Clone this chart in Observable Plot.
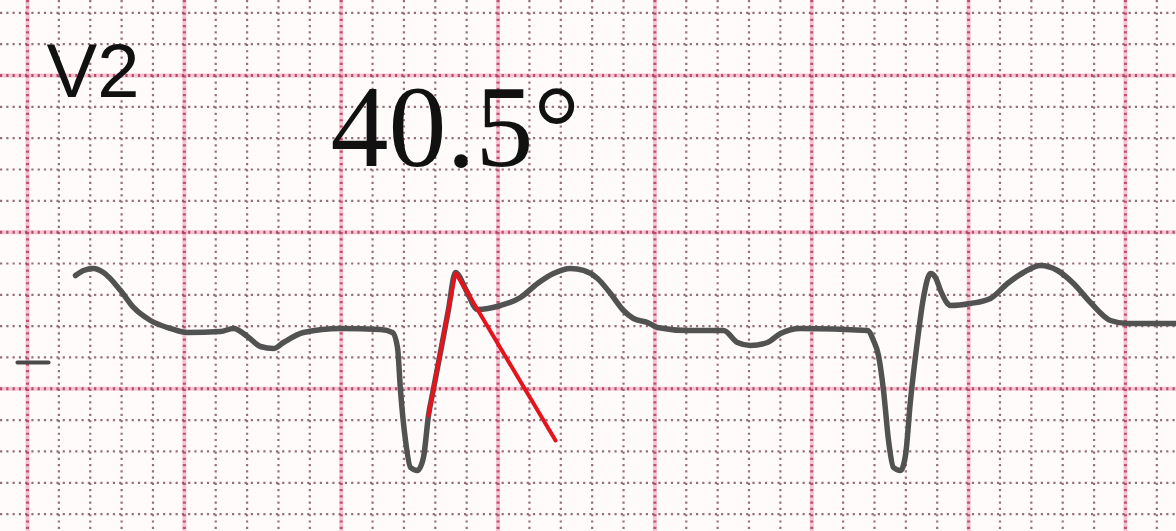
<!DOCTYPE html>
<html>
<head>
<meta charset="utf-8">
<script src="https://cdn.jsdelivr.net/npm/d3@7"></script>
<script src="https://cdn.jsdelivr.net/npm/@observablehq/plot@0.6"></script>
<style>
  html, body { margin: 0; padding: 0; background: #fffbfb; overflow: hidden; }
  #chart svg { display: block; }
</style>
</head>
<body>
<div id="chart"></div>
<script>
const traceT = [0.0612,0.0714,0.0842,0.0969,0.1186,0.1352,0.1568,0.1823,0.2040,0.2461,0.2627,0.2805,0.2971,0.3137,0.3264,0.3519,0.3991,0.4501,0.4654,0.4718,0.4756,0.4820,0.4884,0.4973,0.5049,0.5113,0.5177,0.5279,0.5368,0.5457,0.5598,0.5738,0.6031,0.6286,0.6503,0.6707,0.6924,0.7090,0.7268,0.7434,0.7600,0.7727,0.7906,0.8033,0.8416,0.8875,0.9053,0.9219,0.9436,0.9602,0.9857,1.0711,1.0787,1.0851,1.0915,1.0979,1.1042,1.1132,1.1195,1.1259,1.1348,1.1425,1.1514,1.1578,1.1642,1.1731,1.1769,1.2024,1.2279,1.2496,1.2700,1.2917,1.3134,1.3338,1.3554,1.3809,1.4026,1.4651];
const traceV = [0.3616,0.3776,0.3840,0.3712,0.3138,0.2595,0.2180,0.1925,0.1797,0.1829,0.1925,0.1669,0.1350,0.1286,0.1478,0.1797,0.1925,0.1893,0.1797,0.1318,-0.0054,-0.1650,-0.2512,-0.2608,-0.2193,-0.0852,-0.0001,0.1341,0.2534,0.3712,0.3122,0.2531,0.2659,0.2914,0.3361,0.3680,0.3840,0.3776,0.3521,0.3042,0.2499,0.2244,0.2116,0.1957,0.1861,0.1861,0.1478,0.1382,0.1478,0.1765,0.1925,0.1861,0.1542,0.1063,-0.0054,-0.1650,-0.2512,-0.2608,-0.2129,-0.0373,0.1542,0.2914,0.3680,0.3553,0.3138,0.2723,0.2659,0.2723,0.2882,0.3361,0.3712,0.3936,0.3776,0.3361,0.2755,0.2180,0.2084,0.2084];

// Red angle construction on the first QRS (R' wave)
const angleT = [0.5113, 0.5457, 0.6733];
const angleV = [-0.0852, 0.3712, -0.1650];

// Calibration stub at left edge
const calT = [-0.0128, 0.0268];
const calV = [0.0839, 0.0839];

// Labels
const leadLabel = "V2";
const angleLabel = "40.5°";

const trace = traceT.map((t, i) => ({t, v: traceV[i]}));
const angle = angleT.map((t, i) => ({t, v: angleV[i]}));
const cal = calT.map((t, i) => ({t, v: calV[i]}));

// ECG paper grid: 1 mm = 0.04 s horizontally, 0.1 mV vertically; bold every 5 mm
const tIdx = d3.range(-1, 38);
const vIdx = d3.range(-4, 13);
const minorT = tIdx.filter(i => i % 5 !== 0).map(i => i * 0.04);
const majorT = tIdx.filter(i => i % 5 === 0).map(i => i * 0.04);
const minorV = vIdx.filter(i => i % 5 !== 0).map(i => +(i * 0.1).toFixed(2));
const majorV = vIdx.filter(i => i % 5 === 0).map(i => +(i * 0.1).toFixed(2));

const dots = "2.2,4.07";

const chart = Plot.plot({
  width: 1176,
  height: 531,
  margin: 0,
  x: {domain: [-0.03443, 1.4651], axis: null},
  y: {domain: [-0.4555, 1.2394], axis: null},
  style: {background: "#fffbfb"},
  marks: [
    // bold grid lines (pink band)
    Plot.ruleX(majorT, {stroke: "#f0a0b6", strokeWidth: 4, strokeOpacity: 0.6}),
    Plot.ruleY(majorV, {stroke: "#f0a0b6", strokeWidth: 4, strokeOpacity: 0.6}),
    // dotted minor lines
    Plot.ruleX(minorT, {stroke: "#8a5f6b", strokeWidth: 2.2, strokeDasharray: dots, strokeOpacity: 0.9}),
    Plot.ruleY(minorV, {stroke: "#8a5f6b", strokeWidth: 2.2, strokeDasharray: dots, strokeOpacity: 0.9}),
    // dotted overlay on major lines
    Plot.ruleX(majorT, {stroke: "#b83a62", strokeWidth: 3, strokeDasharray: dots, strokeOpacity: 0.85}),
    Plot.ruleY(majorV, {stroke: "#a83a58", strokeWidth: 3, strokeDasharray: dots, strokeOpacity: 0.85}),
    // calibration stub
    Plot.line(cal, {x: "t", y: "v", stroke: "#4a4a4a", strokeWidth: 4}),
    // ECG trace
    Plot.line(trace, {x: "t", y: "v", stroke: "#525252", strokeWidth: 5.5, curve: "monotone-x", strokeLinejoin: "round", strokeLinecap: "round"}),
    // angle construction
    Plot.line(angle, {x: "t", y: "v", stroke: "#e5141c", strokeWidth: 4, strokeLinejoin: "miter"}),
    // labels
    Plot.text([leadLabel], {x: 0.0243, y: 0.930, text: d => d, textAnchor: "start", lineAnchor: "bottom", fontSize: 76, fontFamily: "Liberation Sans, Arial, sans-serif", fill: "#111"}),
    Plot.text([angleLabel], {x: 0.3864, y: 0.7127, text: d => d, textAnchor: "start", lineAnchor: "bottom", fontSize: 116, fontFamily: "Liberation Serif, Times New Roman, serif", fill: "#111"})
  ]
});
document.getElementById("chart").appendChild(chart);
</script>
</body>
</html>
